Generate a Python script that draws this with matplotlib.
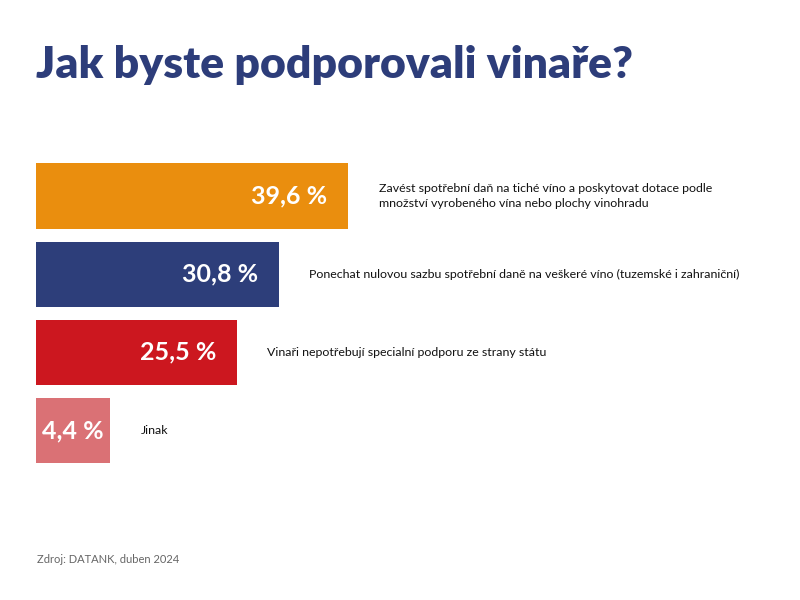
import matplotlib.pyplot as plt

# Data
odpovedi = [
    "Zavést spotřební daň na tiché víno a poskytovat dotace podle\nmnožství vyrobeného vína nebo plochy vinohradu",
    "Ponechat nulovou sazbu spotřební daně na veškeré víno (tuzemské i zahraniční)",
    "Vinaři nepotřebují specialní podporu ze strany státu",
    "Jinak",
]
hodnoty = [39.6, 30.8, 25.5, 4.4]
barvy = ["#EA8E0E", "#2D3E7A", "#CC171F", "#DA7175"]

TITULEK = "Jak byste podporovali vinaře?"
ZDROJ = "Zdroj: DATANK, duben 2024"

MIN_BAR = 9.4  # minimální zobrazená šířka, aby se popisek vešel
FONT = ["Lato", "DejaVu Sans"]

fig = plt.figure(figsize=(8, 6), dpi=100)
fig.patch.set_facecolor("white")

ax = fig.add_axes([0.045, 0.2, 0.9, 0.55])
ax.set_xlim(0, 720 / 7.88)
ax.set_ylim(3.633, -0.588)
ax.axis("off")

sirky = [max(v, MIN_BAR) for v in hodnoty]
ypos = list(range(len(hodnoty)))
ax.barh(ypos, sirky, height=0.833, color=barvy, edgecolor="none")

for y, v, w, txt in zip(ypos, hodnoty, sirky, odpovedi):
    popis = f"{v:.1f} %".replace(".", ",")
    if v < MIN_BAR:
        ax.text(w / 2, y, popis, ha="center", va="center", color="white",
                fontsize=18, fontweight="bold", family=FONT)
    else:
        ax.annotate(popis, (w, y), xytext=(-15, 0), textcoords="offset points",
                    ha="right", va="center", color="#FFFFFF",
                    fontsize=18, fontweight="bold", family=FONT)
    ax.annotate(txt, (w, y), xytext=(22, 0), textcoords="offset points",
                ha="left", va="center", color="#111111", fontsize=8.9,
                family=FONT, linespacing=1.4)

fig.text(0.045, 0.87, TITULEK, ha="left", va="baseline", color="#2D3D7A",
         fontsize=32, fontweight="heavy", family=FONT)
fig.text(0.046, 0.061, ZDROJ, ha="left", va="baseline", color="#666666",
         fontsize=8, family=FONT)

plt.savefig("out.png", dpi=100)
